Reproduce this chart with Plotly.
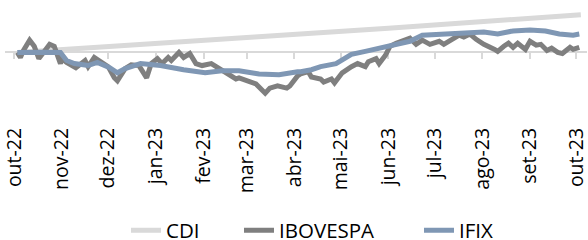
import plotly.graph_objects as go

# ---- data (cumulative return, %) ----
cdi_dates = ["2022-10-03", "2022-11-01", "2022-12-01", "2023-01-02", "2023-02-01", "2023-03-01",
             "2023-04-03", "2023-05-02", "2023-06-01", "2023-07-03", "2023-08-01", "2023-09-01",
             "2023-10-02", "2023-10-04"]
cdi_vals = [0.0, 1.0, 2.03, 3.17, 4.3, 5.26, 6.5, 7.5, 8.7, 9.9, 11.1, 12.3, 13.3, 13.5]

ibov_dates = ["2022-10-03", "2022-10-05", "2022-10-07", "2022-10-11", "2022-10-14", "2022-10-17",
              "2022-10-20", "2022-10-24", "2022-10-27", "2022-10-31", "2022-11-01", "2022-11-04",
              "2022-11-10", "2022-11-14", "2022-11-16", "2022-11-18", "2022-11-22", "2022-11-25",
              "2022-12-01", "2022-12-05", "2022-12-07", "2022-12-12", "2022-12-16", "2022-12-21",
              "2022-12-26", "2022-12-29", "2023-01-02", "2023-01-05", "2023-01-09", "2023-01-11",
              "2023-01-16", "2023-01-19", "2023-01-23", "2023-01-27", "2023-01-31", "2023-02-06",
              "2023-02-13", "2023-02-22", "2023-02-24", "2023-03-07", "2023-03-13", "2023-03-16",
              "2023-03-21", "2023-03-27", "2023-03-29", "2023-04-03", "2023-04-05", "2023-04-10",
              "2023-04-12", "2023-04-18", "2023-04-20", "2023-04-25", "2023-04-27", "2023-05-02",
              "2023-05-08", "2023-05-12", "2023-05-17", "2023-05-19", "2023-05-24", "2023-05-26",
              "2023-05-30", "2023-06-02", "2023-06-06", "2023-06-12", "2023-06-15", "2023-06-19",
              "2023-06-21", "2023-06-23", "2023-06-28", "2023-07-04", "2023-07-07", "2023-07-11",
              "2023-07-17", "2023-07-20", "2023-07-24", "2023-07-28", "2023-08-02", "2023-08-09",
              "2023-08-11", "2023-08-15", "2023-08-18", "2023-08-21", "2023-08-24", "2023-08-29",
              "2023-09-01", "2023-09-05", "2023-09-08", "2023-09-12", "2023-09-15", "2023-09-19",
              "2023-09-22", "2023-09-27", "2023-09-29", "2023-10-03"]
ibov_vals = [0.0, -1.8, 0.7, 4.4, 2.2, -2.2,
             0.0, 2.9, 2.2, -4.0, -2.2, -3.6,
             -5.5, -4.0, -2.9, -5.1, -1.8, -2.9,
             -5.1, -9.1, -10.2, -5.8, -4.4, -4.7,
             -9.1, -4.0, -2.2, -4.0, -1.8, -2.9,
             0.0, -1.8, -0.4, -4.0, -4.7, -4.0,
             -6.6, -9.5, -9.1, -11.3, -14.6, -12.8,
             -12.0, -12.8, -12.0, -8.4, -7.7, -6.9,
             -8.8, -9.5, -10.6, -9.5, -10.9, -7.3,
             -5.1, -4.0, -5.1, -3.3, -2.2, -4.0,
             -1.1, 2.2, 3.3, 4.4, 5.1, 2.9,
             3.6, 4.4, 2.9, 4.0, 2.9, 4.4,
             6.2, 5.5, 6.6, 4.7, 2.9, 1.1,
             0.4, 2.2, 3.3, 1.8, 3.3, 1.1,
             4.0, 2.6, 2.9, 0.7, 1.5, 0.0,
             -0.4, 1.8, 1.1, 1.8]

ifix_dates = ["2022-10-03", "2022-10-11", "2022-10-21", "2022-10-31", "2022-11-04", "2022-11-09",
              "2022-11-18", "2022-11-24", "2022-12-02", "2022-12-07", "2022-12-12", "2022-12-22",
              "2023-01-04", "2023-01-19", "2023-02-02", "2023-02-13", "2023-02-24", "2023-03-09",
              "2023-03-22", "2023-04-03", "2023-04-05", "2023-04-12", "2023-04-18", "2023-04-28",
              "2023-05-08", "2023-05-17", "2023-05-26", "2023-06-05", "2023-06-15", "2023-06-23",
              "2023-07-04", "2023-07-14", "2023-07-24", "2023-08-02", "2023-08-11", "2023-08-21",
              "2023-09-01", "2023-09-11", "2023-09-20", "2023-09-29", "2023-10-03"]
ifix_vals = [0.0, 0.2, 0.1, 0.0, -2.9, -4.0,
             -4.7, -3.6, -5.5, -7.3, -5.8, -4.0,
             -4.7, -6.2, -7.3, -6.6, -6.6, -7.7,
             -8.0, -6.9, -6.9, -6.2, -5.1, -4.0,
             -0.7, 0.4, 1.5, 2.9, 4.0, 6.2,
             6.6, 6.6, 7.3, 7.3, 6.6, 7.7,
             8.0, 7.7, 6.6, 6.2, 6.6]

tick_vals = ["2022-10-01", "2022-11-01", "2022-12-01", "2023-01-01", "2023-02-01", "2023-03-01",
             "2023-04-01", "2023-05-01", "2023-06-01", "2023-07-01", "2023-08-01", "2023-09-01",
             "2023-10-01"]
tick_text = ["out-22", "nov-22", "dez-22", "jan-23", "fev-23", "mar-23", "abr-23", "mai-23",
             "jun-23", "jul-23", "ago-23", "set-23", "out-23"]

x_range = ["2022-09-25", "2023-10-08"]
y_range = [-23.5, 17]

FONT = "Open Sans"
W, H = 588, 240

fig = go.Figure()
# invisible helper trace so the zero-level axis (x2) is drawn
fig.add_trace(go.Scatter(x=cdi_dates[:1], y=cdi_vals[:1], xaxis="x2", yaxis="y", mode="lines",
                         showlegend=False, hoverinfo="skip", line=dict(width=0)))
fig.add_trace(go.Scatter(x=cdi_dates, y=cdi_vals, name="CDI", mode="lines", legend="legend",
                         line=dict(color="#d9d9d9", width=5)))
fig.add_trace(go.Scatter(x=ibov_dates, y=ibov_vals, name="IBOVESPA", mode="lines", legend="legend2",
                         line=dict(color="#7f7f7f", width=5)))
fig.add_trace(go.Scatter(x=ifix_dates, y=ifix_vals, name="IFIX", mode="lines", legend="legend3",
                         line=dict(color="#7f97b4", width=5)))

zero_pos = (0 - y_range[0]) / (y_range[1] - y_range[0])

def leg(left_px):
    return dict(orientation="h", x=left_px / W, xanchor="left", xref="container",
                y=0.04, yanchor="middle", yref="container",
                font=dict(size=20.5, family=FONT, color="#000000"), bgcolor="rgba(0,0,0,0)")

fig.update_layout(
    width=W, height=H,
    margin=dict(l=5, r=1, t=5, b=122),
    paper_bgcolor="white", plot_bgcolor="white",
    font=dict(family=FONT, color="#000000", size=20),
    showlegend=True,
    legend=leg(126), legend2=leg(239), legend3=leg(419),
    xaxis=dict(range=x_range, type="date", tickvals=tick_vals, ticktext=tick_text,
               tickangle=-90, showgrid=False, showline=False, zeroline=False, ticks="",
               ticklabeloverflow="allow", automargin=False, ticklabelstandoff=5,
               tickfont=dict(size=19.5, family=FONT, color="#000000")),
    xaxis2=dict(range=x_range, type="date", overlaying="x", anchor="free", position=zero_pos,
                side="bottom", tickvals=tick_vals, showticklabels=False, showgrid=False,
                showline=True, linecolor="#d9d9d9", linewidth=2, ticks="outside",
                ticklen=6, tickwidth=2, tickcolor="#d9d9d9", zeroline=False,
                layer="below traces"),
    yaxis=dict(range=y_range, visible=False, showgrid=False, zeroline=False),
)

fig.write_html("out.html", config={"displayModeBar": False},
               post_script="document.body.style.margin='0';")
